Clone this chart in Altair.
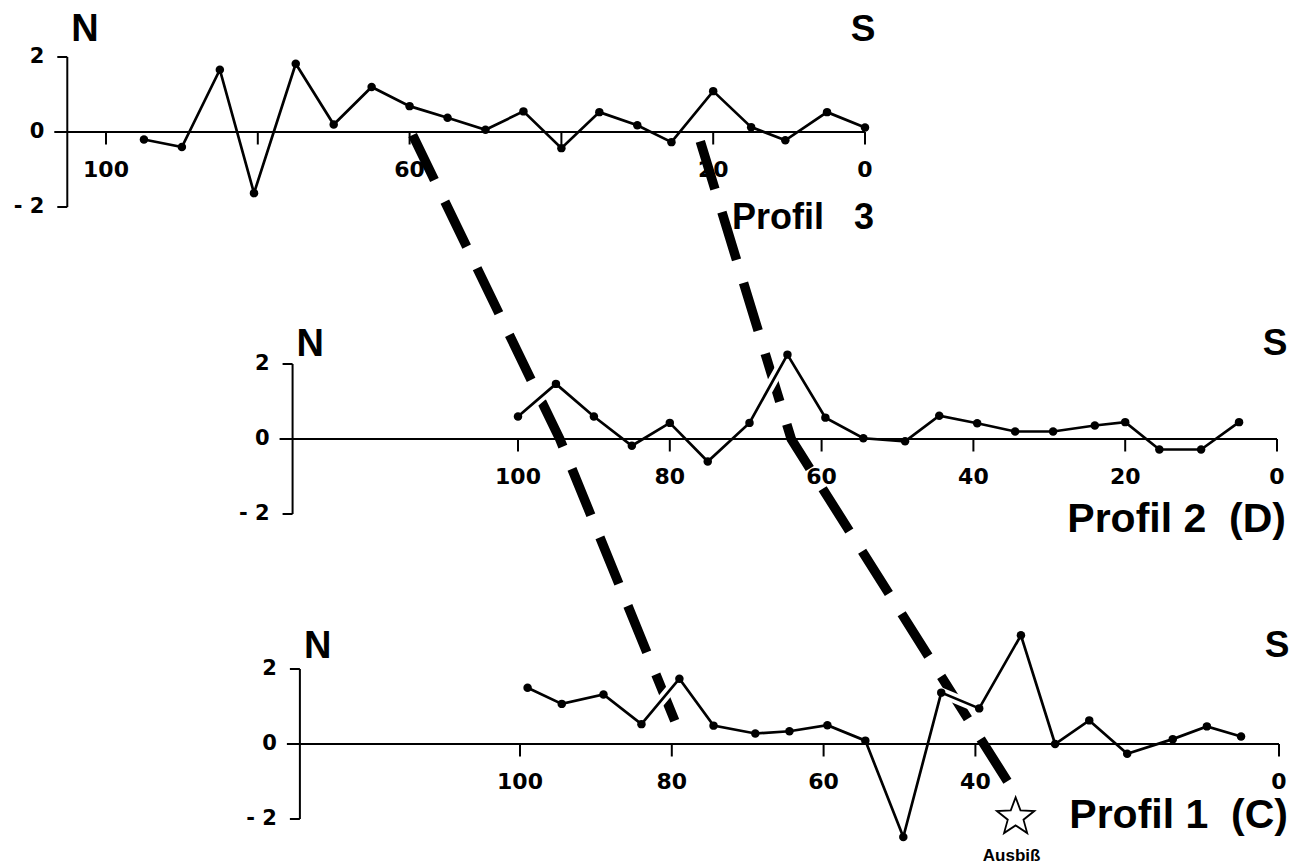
import altair as alt
import pandas as pd

# ---------------- values ----------------
# Profil 3  (distance, value)
p3_x = [95, 90, 85, 80.5, 75, 70, 65, 60, 55, 50, 45, 40, 35, 30, 25.5, 20, 15, 10.5, 5, 0]
p3_y = [-0.2, -0.4, 1.66, -1.63, 1.82, 0.2, 1.2, 0.69, 0.38, 0.06, 0.55, -0.43, 0.53, 0.18,
        -0.27, 1.09, 0.13, -0.22, 0.53, 0.12]
# Profil 2 (D)
p2_x = [100, 95, 90, 85, 80, 75, 69.5, 64.5, 59.5, 54.5, 49, 44.5, 39.5, 34.5, 29.5, 24, 20,
        15.5, 10, 5]
p2_y = [0.6, 1.47, 0.6, -0.18, 0.43, -0.6, 0.43, 2.25, 0.57, 0.02, -0.06, 0.62, 0.42, 0.2,
        0.2, 0.36, 0.45, -0.28, -0.28, 0.45]
# Profil 1 (C)
p1_x = [99, 94.5, 89, 84, 79, 74.5, 69, 64.5, 59.5, 54.5, 49.5, 44.5, 39.5, 34, 29.5, 25, 20,
        14, 9.5, 5]
p1_y = [1.5, 1.07, 1.32, 0.53, 1.74, 0.49, 0.28, 0.34, 0.5, 0.09, -2.48, 1.37, 0.95, 2.9, 0.0,
        0.63, -0.26, 0.13, 0.47, 0.2]

# correlation (dashed) lines: profile, distance, value
corrA_prof = [3, 2, 1]
corrA_x = [59.6, 94.5, 78.9]
corrA_y = [-0.08, 0.0, 0.27]
corrB_prof = [3, 2, 1]
corrB_x = [21.7, 64.0, 35.2]
corrB_y = [-0.25, 0.0, -1.18]

# axes
p3_ticks = [100, 80, 60, 40, 20, 0]
p3_tick_labels = [100, 60, 20, 0]
p2_ticks = [100, 80, 60, 40, 20, 0]
p2_tick_labels = [100, 80, 60, 40, 20, 0]
p1_ticks = [100, 80, 60, 40, 0]
p1_tick_labels = [100, 80, 60, 40, 0]
y_ticks = [2, 0, -2]
y_tick_text = ["2", "0", "- 2"]

NB = "\u00a0"
titles = {3: "Profil" + NB * 3 + "3", 2: "Profil" + NB + "2" + NB * 2 + "(D)",
          1: "Profil" + NB + "1" + NB * 2 + "(C)"}

outcrop_prof, outcrop_x, outcrop_y = 1, 34.7, -1.95
outcrop_label = "Ausbiß"

# ---------------- layout ----------------
W, H = 1282, 857
PAGE = 8
PXU_X, PXU_Y = 7.59, 37.5          # pixels per distance unit / per value unit
REF_X, REF_Y = 1279, 744           # page pixel of the zero of Profil 1
PANEL = {   # page pixel of each profile's zero, y-axis position, label heights, title size
    3: dict(zero=(865, 132), yaxis=105.1, n_at=2.42, s_at=2.42, t_at=-2.58, t_size=36),
    2: dict(zero=(1277, 439), yaxis=129.7, n_at=2.22, s_at=2.25, t_at=-2.48, t_size=41),
    1: dict(zero=(1279, 744), yaxis=129.0, n_at=2.3, s_at=2.33, t_at=-2.25, t_size=41),
}
OX = {p: (REF_X - d["zero"][0]) / PXU_X for p, d in PANEL.items()}
OY = {p: (REF_Y - d["zero"][1]) / PXU_Y for p, d in PANEL.items()}
STUB = 13 / PXU_X
BRACKET = 10 / PXU_X
TICK = 12.5 / PXU_Y

x_dom = [(REF_X - (PAGE + W)) / PXU_X, (REF_X - PAGE) / PXU_X]
y_dom = [(REF_Y - (PAGE + H)) / PXU_Y, (REF_Y - PAGE) / PXU_Y]
xs = alt.Scale(domain=x_dom, reverse=True, nice=False, zero=False)
ys = alt.Scale(domain=y_dom, nice=False, zero=False)


def gu(p, x):
    return OX[p] + x


def gv(p, y):
    return OY[p] + y


series = {3: (p3_x, p3_y), 2: (p2_x, p2_y), 1: (p1_x, p1_y)}
ticks = {3: p3_ticks, 2: p2_ticks, 1: p1_ticks}
tick_labels = {3: p3_tick_labels, 2: p2_tick_labels, 1: p1_tick_labels}

pts = []
for p, (xx, yy) in series.items():
    for i, (x, y) in enumerate(zip(xx, yy)):
        pts.append(dict(profile=p, seq=i, u=gu(p, x), v=gv(p, y)))
pts = pd.DataFrame(pts)

corr = []
for name, pr, xx, yy in [("A", corrA_prof, corrA_x, corrA_y), ("B", corrB_prof, corrB_x, corrB_y)]:
    for i, (p, x, y) in enumerate(zip(pr, xx, yy)):
        corr.append(dict(line=name, seq=i, u=gu(p, x), v=gv(p, y)))
corr = pd.DataFrame(corr)

rules, xlab, ylab, nlab, slab, tlab = [], [], [], [], [], []
for p, d in PANEL.items():
    ya = d["yaxis"]
    rules.append(dict(u=gu(p, ya + STUB), u2=gu(p, 0), v=gv(p, 0), v2=gv(p, 0)))
    rules.append(dict(u=gu(p, ya), u2=gu(p, ya), v=gv(p, -2), v2=gv(p, 2)))
    for yt in (2, -2):
        rules.append(dict(u=gu(p, ya + BRACKET), u2=gu(p, ya), v=gv(p, yt), v2=gv(p, yt)))
    for t in ticks[p]:
        rules.append(dict(u=gu(p, t), u2=gu(p, t), v=gv(p, 0), v2=gv(p, 0) - TICK))
    for t in tick_labels[p]:
        xlab.append(dict(u=gu(p, t), v=gv(p, -1.0), txt=str(t)))
    for yt, tt in zip(y_ticks, y_tick_text):
        ylab.append(dict(u=gu(p, ya), v=gv(p, yt), txt=tt))
    nlab.append(dict(u=gu(p, ya), v=gv(p, d["n_at"]), txt="N"))
    slab.append(dict(u=gu(p, 0), v=gv(p, d["s_at"]), txt="S"))
    tlab.append(dict(u=gu(p, 0), v=gv(p, d["t_at"]), txt=titles[p], fs=d["t_size"]))
rules = pd.DataFrame(rules)

star = pd.DataFrame([dict(u=gu(outcrop_prof, outcrop_x), v=gv(outcrop_prof, outcrop_y),
                          txt=outcrop_label)])

X = alt.X("u:Q", scale=xs, axis=None)
Y = alt.Y("v:Q", scale=ys, axis=None)

dashes = alt.Chart(corr).mark_line(color="black", strokeWidth=9.5, strokeDash=[50, 24],
                                   strokeCap="butt", strokeJoin="miter").encode(
    x=X, y=Y, detail="line:N", order="seq:Q")

halo = alt.Chart(pts).mark_line(color="white", strokeWidth=10, strokeJoin="round").encode(
    x=X, y=Y, detail="profile:N", order="seq:Q")

axes = alt.Chart(rules).mark_rule(color="black", strokeWidth=2).encode(
    x=X, x2="u2:Q", y=Y, y2="v2:Q")

lines = alt.Chart(pts).mark_line(color="black", strokeWidth=2.7).encode(
    x=X, y=Y, detail="profile:N", order="seq:Q")

dots = alt.Chart(pts).mark_circle(color="black", size=72, opacity=1).encode(x=X, y=Y)

xt = alt.Chart(pd.DataFrame(xlab)).mark_text(
    font="DejaVu Sans", fontWeight="bold", fontSize=22, align="center", baseline="middle",
    color="black").encode(x=X, y=Y, text="txt:N")
yt = alt.Chart(pd.DataFrame(ylab)).mark_text(
    font="DejaVu Sans", fontWeight="bold", fontSize=21, align="right", baseline="middle",
    dx=-23, color="black").encode(x=X, y=Y, text="txt:N")
nt = alt.Chart(pd.DataFrame(nlab)).mark_text(
    font="Liberation Sans", fontWeight="bold", fontSize=38, align="left",
    baseline="alphabetic", dx=4, color="black").encode(x=X, y=Y, text="txt:N")
st = alt.Chart(pd.DataFrame(slab)).mark_text(
    font="Liberation Sans", fontWeight="bold", fontSize=37, align="center",
    baseline="alphabetic", dx=-2, color="black").encode(x=X, y=Y, text="txt:N")
tt = alt.Chart(pd.DataFrame(tlab)).mark_text(
    font="Liberation Sans", fontWeight="bold", align="right", baseline="alphabetic",
    dx=9, color="black").encode(x=X, y=Y, text="txt:N", size=alt.Size("fs:Q", scale=None))

STAR = ("M0,-1L0.247,-0.34L0.951,-0.309L0.399,0.13L0.588,0.809L0,0.42L-0.588,0.809"
        "L-0.399,0.13L-0.951,-0.309L-0.247,-0.34Z")
star_mark = alt.Chart(star).mark_point(shape=STAR, size=1550, fill="white", fillOpacity=1,
                                       stroke="black", strokeWidth=1.8, opacity=1).encode(x=X, y=Y)
star_text = alt.Chart(star).mark_text(
    font="Liberation Sans", fontWeight="bold", fontSize=17, align="center", baseline="middle",
    dy=39, dx=-4, color="black").encode(x=X, y=Y, text="txt:N")

chart = alt.layer(dashes, halo, axes, lines, dots, xt, yt, nt, st, tt, star_mark, star_text
                  ).properties(
    width=W, height=H, padding=0, autosize=alt.AutoSizeParams(type="none"),
    background="white").configure_view(stroke=None)

chart.save("out.html", embed_options={"renderer": "svg", "actions": False})
